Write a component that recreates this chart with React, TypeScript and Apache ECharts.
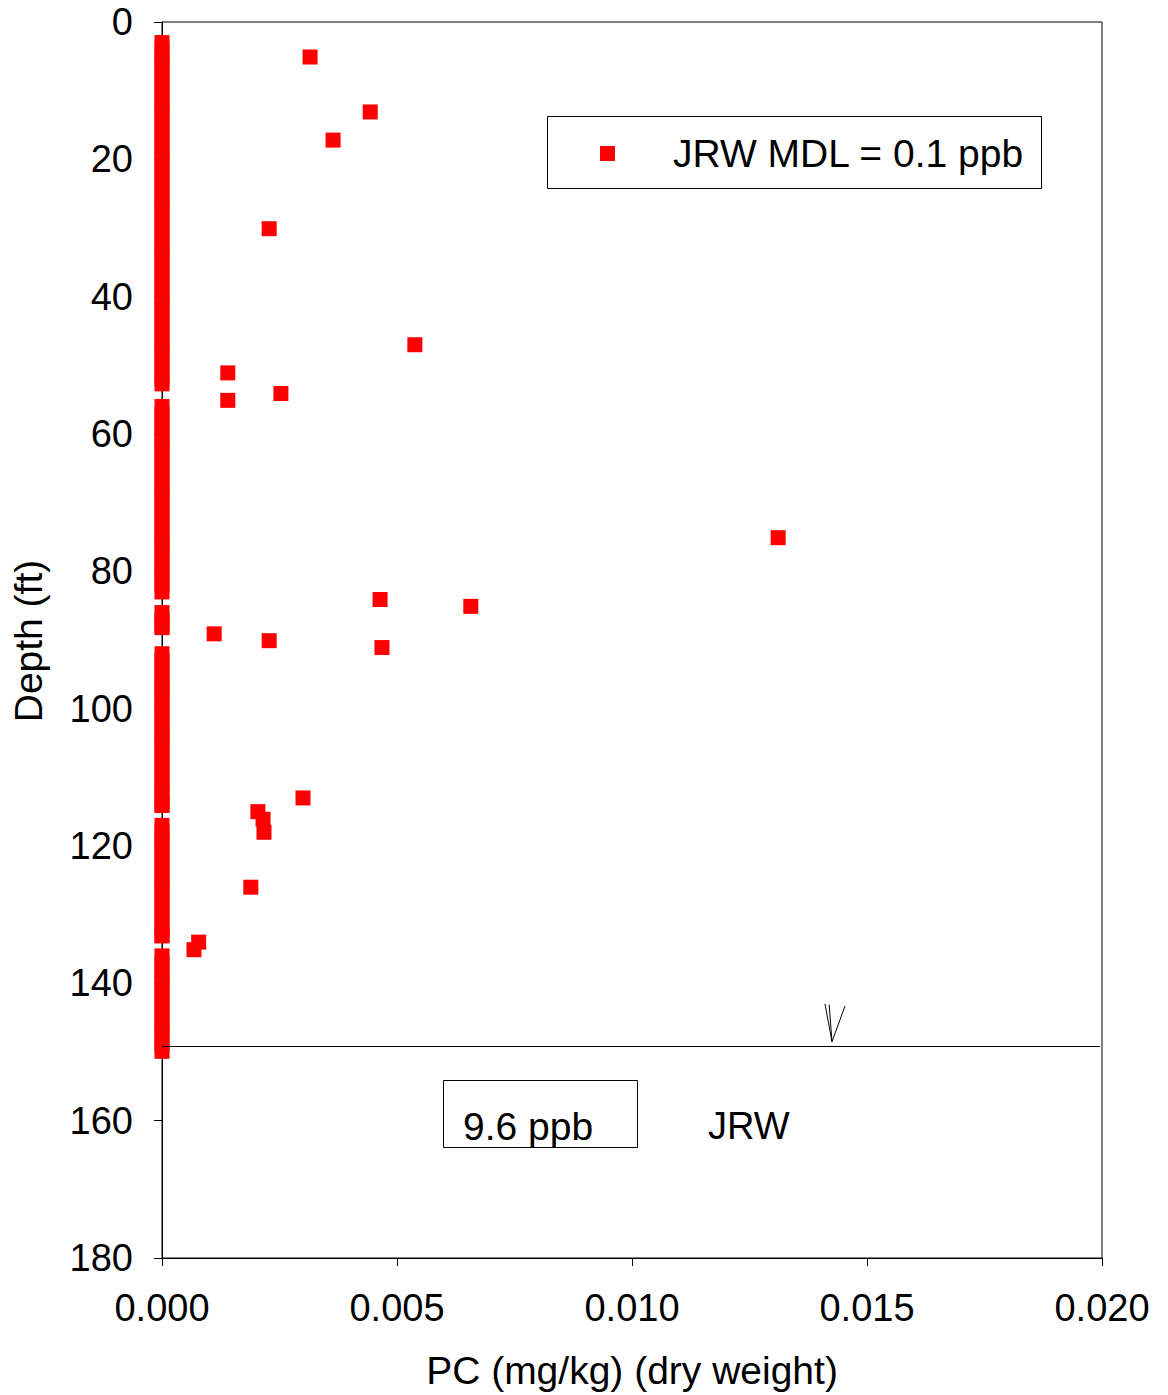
import React, { useEffect, useRef } from "react";
import * as echarts from "echarts";

// Non-detects plotted at 0 (depth, ft)
const nondetectDepths: number[] = [
  3, 4, 5, 6, 7, 8, 9, 10, 11, 12, 13, 14, 15, 16, 17, 18, 19, 20, 21, 22, 23, 24, 25, 26, 27, 28,
  29, 30, 31, 32, 33, 34, 35, 36, 37, 38, 39, 40, 41, 42, 43, 44, 45, 46, 47, 48, 49, 50, 51, 52, 52.7,
  56, 57, 58, 59, 60, 61, 62, 63, 64, 65, 66, 67, 68, 69, 70, 71, 72, 73, 74, 75, 76, 77, 78, 79,
  80, 81, 82, 83,
  86, 87, 88, 88.2,
  92, 93, 94, 95, 96, 97, 98, 99, 100, 101, 102, 103, 104, 105, 106, 107, 108, 109, 110, 111, 112,
  113, 114, 114.1,
  117, 118, 119, 120, 121, 122, 123, 124, 125, 126, 127, 128, 129, 130, 131, 132, 133, 133.1,
  136, 137, 138, 139, 140, 141, 142, 143, 144, 145, 146, 147, 148, 149, 149.9,
];

// Detected values
const detectPC: number[] = [
  0.00315, 0.00443, 0.00364, 0.00228, 0.00538, 0.0014, 0.00253, 0.0014, 0.01311, 0.00464, 0.00657,
  0.00111, 0.00228, 0.00468, 0.003, 0.00204, 0.00215, 0.00217, 0.00189, 0.00078, 0.00068,
];
const detectDepth: number[] = [
  5.1, 13.1, 17.2, 30.1, 47.0, 51.1, 54.1, 55.1, 75.1, 84.1, 85.1, 89.1, 90.1, 91.1, 113.0, 115.0,
  116.1, 118.0, 126.0, 134.0, 135.1,
];

const xTicks: number[] = [0, 0.005, 0.01, 0.015, 0.02];
const yTicks: number[] = [0, 20, 40, 60, 80, 100, 120, 140, 160, 180];

// Annotation: reference line and arrow (data coordinates)
const refLineDepth = 149.1;
const refLineX: number[] = [0, 0.01996];
const arrowApex: number[] = [0.014255, 148.5];
const arrowTails: number[][] = [
  [0.014106, 143.0],
  [0.014195, 143.1],
  [0.014532, 143.3],
];

const FONT = "Liberation Sans, Arial, sans-serif";

export default function App() {
  const ref = useRef<HTMLDivElement>(null);
  useEffect(() => {
    if (!ref.current) return;
    const chart = echarts.init(ref.current, undefined, { renderer: "svg" });
    const ndData = nondetectDepths.map((d) => [0, d]);
    const dData = detectPC.map((v, i) => [v, detectDepth[i]]);
    const markData: any[] = [
      [{ coord: [refLineX[0], refLineDepth] }, { coord: [refLineX[1], refLineDepth] }],
      ...arrowTails.map((t) => [{ coord: t }, { coord: arrowApex }]),
    ];
    chart.setOption({
      animation: false,
      backgroundColor: "#fff",
      textStyle: { fontFamily: FONT },
      grid: {
        left: 162,
        top: 22,
        width: 940,
        height: 1236,
        show: true,
        borderColor: "#000",
        borderWidth: 1,
        backgroundColor: "transparent",
      },
      xAxis: {
        type: "value",
        min: xTicks[0],
        max: xTicks[xTicks.length - 1],
        interval: 0.005,
        axisLine: { show: true, onZero: false, lineStyle: { color: "#000", width: 1 } },
        axisTick: { show: true, length: 8, lineStyle: { color: "#000" } },
        splitLine: { show: false },
        axisLabel: {
          color: "#000",
          fontSize: 38,
          fontFamily: FONT,
          margin: 31,
          showMinLabel: true,
          showMaxLabel: true,
          formatter: (v: number) => v.toFixed(3),
        },
      },
      yAxis: {
        type: "value",
        inverse: true,
        min: yTicks[0],
        max: yTicks[yTicks.length - 1],
        interval: 20,
        axisLine: { show: true, onZero: false, lineStyle: { color: "#000", width: 1 } },
        axisTick: { show: true, length: 8, lineStyle: { color: "#000" } },
        splitLine: { show: false },
        axisLabel: {
          color: "#000",
          fontSize: 38,
          fontFamily: FONT,
          margin: 29,
          showMinLabel: true,
          showMaxLabel: true,
        },
      },
      series: [
        {
          name: "ND",
          type: "scatter",
          symbol: "rect",
          symbolSize: 15,
          itemStyle: { color: "#ff0000", opacity: 1 },
          data: ndData,
          silent: true,
          z: 3,
        },
        {
          name: "JRW MDL = 0.1 ppb",
          type: "scatter",
          symbol: "rect",
          symbolSize: 15,
          itemStyle: { color: "#ff0000", opacity: 1 },
          data: dData,
          silent: true,
          z: 3,
        },
        {
          name: "annot",
          type: "line",
          data: [],
          silent: true,
          markLine: {
            silent: true,
            symbol: ["none", "none"],
            label: { show: false },
            lineStyle: { color: "#000", width: 1, type: "solid", opacity: 1 },
            emphasis: { disabled: true },
            data: markData,
          },
        },
      ],
      graphic: [
        {
          type: "rect",
          shape: { x: 547.5, y: 116.5, width: 494, height: 72 },
          style: { fill: "#fff", stroke: "#000", lineWidth: 1 },
          z: 10,
        },
        {
          type: "rect",
          shape: { x: 600, y: 146, width: 15, height: 15 },
          style: { fill: "#ff0000" },
          z: 11,
        },
        {
          type: "text",
          x: 673,
          y: 153,
          style: {
            text: "JRW MDL = 0.1 ppb",
            font: `39px ${FONT}`,
            fill: "#000",
            verticalAlign: "middle",
            align: "left",
          },
          z: 11,
        },
        {
          type: "rect",
          shape: { x: 443.5, y: 1080.5, width: 194, height: 67 },
          style: { fill: "none", stroke: "#000", lineWidth: 1 },
          z: 10,
        },
        {
          type: "text",
          x: 463,
          y: 1126,
          style: {
            text: "9.6 ppb",
            font: `39px ${FONT}`,
            fill: "#000",
            verticalAlign: "middle",
            align: "left",
          },
          z: 11,
        },
        {
          type: "text",
          x: 708,
          y: 1126,
          style: {
            text: "JRW",
            font: `38px ${FONT}`,
            fill: "#000",
            verticalAlign: "middle",
            align: "left",
          },
          z: 11,
        },
        {
          type: "text",
          x: 632,
          y: 1370,
          style: {
            text: "PC (mg/kg) (dry weight)",
            font: `39px ${FONT}`,
            fill: "#000",
            verticalAlign: "middle",
            align: "center",
          },
        },
        {
          type: "text",
          x: 28,
          y: 641,
          rotation: Math.PI / 2,
          style: {
            text: "Depth (ft)",
            font: `39px ${FONT}`,
            fill: "#000",
            verticalAlign: "middle",
            align: "center",
          },
        },
      ],
    });
    return () => chart.dispose();
  }, []);
  return (
    <div
      ref={ref}
      style={{ position: "absolute", left: 0, top: 0, width: 1168, height: 1395 }}
    />
  );
}
